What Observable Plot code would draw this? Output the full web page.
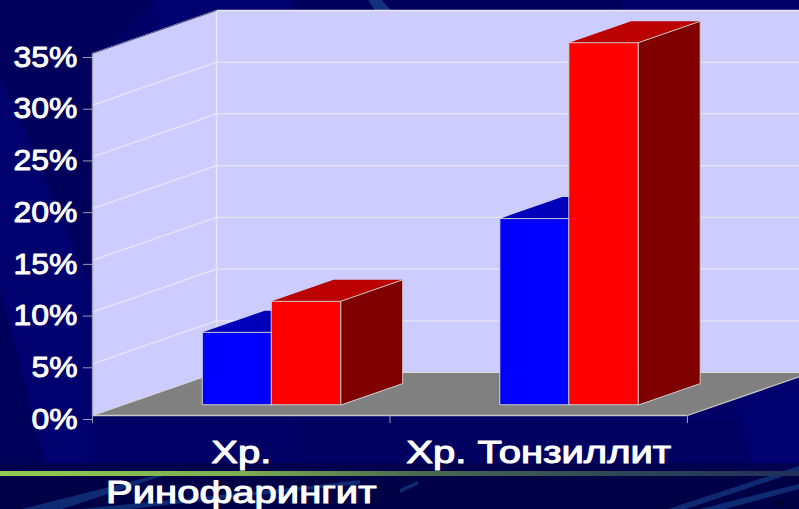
<!DOCTYPE html>
<html lang="ru">
<head>
<meta charset="utf-8">
<title>Хр. Ринофарингит и Хр. Тонзиллит</title>
<script src="https://cdn.jsdelivr.net/npm/d3@7"></script>
<script src="https://cdn.jsdelivr.net/npm/@observablehq/plot@0.6"></script>
<style>
  html, body { margin: 0; padding: 0; background: #00006a; overflow: hidden; }
  #slide { position: relative; width: 799px; height: 509px; overflow: hidden; }
  #backdrop, #chart { position: absolute; left: 0; top: 0; }
  #chart svg { display: block; background: transparent; overflow: hidden; }
</style>
</head>
<body>
<div id="slide">
  <svg id="backdrop" width="799" height="509" aria-hidden="true">
    <defs>
      <linearGradient id="rule">
        <stop offset="0" stop-color="#8fcc50"/>
        <stop offset="0.3" stop-color="#7cae50"/>
        <stop offset="0.52" stop-color="#4a6a50"/>
        <stop offset="0.78" stop-color="#2d4656"/>
        <stop offset="1" stop-color="#20305a"/>
      </linearGradient>
    </defs>
    <rect width="799" height="509" fill="#000066"/>
    <polygon points="0,0 155,0 92,60 92,290 0,75" fill="#00005c"/>
    <polygon points="0,75 92,290 92,463 45,463 0,290" fill="#00006e"/>
    <polygon points="0,290 45,463 0,463" fill="#00005a"/>
    <polygon points="155,0 293,0 293,12 155,60" fill="#00006e"/>
    <polygon points="293,0 622,0 622,12 293,12" fill="#00005a"/>
    <polygon points="368,0 382,0 392,12 376,12" fill="#143080"/>
    <polygon points="622,0 799,0 799,12 622,12" fill="#000068"/>
    <polygon points="687,415 799,376 799,463 752,463 735,398" fill="#00006e"/>
    <polygon points="300,420 735,420 752,463 300,463" fill="#000060"/>
    <rect y="463" width="799" height="46" fill="#000046"/>
    <rect y="463" width="799" height="8" fill="#00004e"/>
    <g fill="#0e2a72">
      <polygon points="22,509 165,473 172,473 62,509"/>
      <polygon points="80,509 310,486 360,480 360,484 130,509"/>
      <polygon points="400,489 417,481 419,484 400,493"/>
      <polygon points="668,509 799,466 799,471 686,509"/>
      <polygon points="700,509 799,484 799,489 725,509"/>
    </g>
    <rect y="471" width="799" height="5" fill="url(#rule)"/>
  </svg>
  <div id="chart"></div>
</div>
<script>
// Share of patients by diagnosis, drawn as a clustered column chart on a 3-D stage
const categories = ["Хр. Ринофарингит", "Хр. Тонзиллит"];
const seriesBlue = [7, 18];
const seriesRed = [10, 35];
const percentTicks = [0, 5, 10, 15, 20, 25, 30, 35];
const labelFirstLine = ["Хр.", "Хр. Тонзиллит"];
const labelSecondLine = ["Ринофарингит"];

const palette = {
  wall: "#ccccff", floor: "#808080", grid: "#e6e6f4", edge: "#c8c8c8",
  blue: ["#0000ff", "#0000bb", "#000080"],
  red: ["#ff0000", "#bb0000", "#800000"]
};

// Oblique projection: moving to the back of the stage shifts a point along both axes.
const depthX = 0.4168;
const depthY = 4.157;
const project = ([x, v, depth]) => ({x: x + depth * depthX, y: v + depth * depthY});

const faces = [];
function addFace(target, id, fill, corners) {
  for (const corner of corners) target.push({id, fill, ...project(corner)});
}

const topValue = percentTicks[percentTicks.length - 1];
addFace(faces, "wall-left", palette.wall, [[0, 0, 0], [0, topValue, 0], [0, topValue, 1], [0, 0, 1]]);
addFace(faces, "wall-back", palette.wall, [[0, 0, 1], [0, topValue, 1], [2, topValue, 1], [2, 0, 1]]);
addFace(faces, "floor", palette.floor, [[0, 0, 0], [2, 0, 0], [2, 0, 1], [0, 0, 1]]);

// Grid lines run along the left wall and across the back wall.
const gridRows = percentTicks.slice(1).flatMap((v) =>
  [[0, v, 0], [0, v, 1], [2, v, 1]].map((p) => ({id: v, ...project(p)}))
);
const cornerRows = [[0, 0, 1], [0, topValue, 1]].map(project);
const floorEdgeRows = [[0, 0, 0], [0, 0, 1], [2, 0, 1]].map(project);
const frontEdgeRows = [[0, 0, 0], [2, 0, 0], [2, 0, 1]].map(project);
const leftEdgeRows = [[0, 0, 0], [0, topValue, 0]].map(project);
const leftTopRows = [[0, topValue, 0], [0, topValue, 1]].map(project);

// Columns occupy the middle half of the stage depth; blue is painted first so that
// the red column covers its side.
const barWidth = 0.232;
const depthFront = 0.25;
const depthBack = 0.75;
const topFaces = [];
const boxFaces = [];
categories.forEach((category, i) => {
  [[seriesBlue[i], palette.blue, -1], [seriesRed[i], palette.red, 0]].forEach(([value, colors, slot]) => {
    const x0 = i + 0.498 + slot * barWidth;
    const x1 = x0 + barWidth;
    const id = `${category}-${colors[0]}`;
    addFace(topFaces, `${id}-top`, colors[1], [
      [x0, value, depthFront], [x1, value, depthFront], [x1, value, depthBack], [x0, value, depthBack]
    ]);
    addFace(boxFaces, `${id}-side`, colors[2], [
      [x1, 0, depthFront], [x1, value, depthFront], [x1, value, depthBack], [x1, 0, depthBack]
    ]);
    addFace(boxFaces, `${id}-front`, colors[0], [
      [x0, 0, depthFront], [x1, 0, depthFront], [x1, value, depthFront], [x0, value, depthFront]
    ]);
  });
});
const paintRank = (id) =>
  (id.startsWith(categories[1]) ? 100 : 0) +
  (id.includes(palette.red[0]) ? 10 : 0) +
  (id.endsWith("top") ? 0 : id.endsWith("side") ? 1 : 2);
const columnRows = [...topFaces, ...boxFaces].sort((a, b) => paintRank(a.id) - paintRank(b.id));

const font = "'Liberation Sans', Arial, sans-serif";
const firstLines = labelFirstLine.map((text, i) => ({x: i + 0.5, text}));
const secondLines = labelSecondLine.map((text, i) => ({x: i + 0.5, text}));
const labelStyle = {
  x: "x", y: () => 0, text: "text", fill: "white", stroke: "white", strokeWidth: 1.1,
  fontSize: 32, lineAnchor: "bottom"
};

const chart = Plot.plot({
  width: 799,
  height: 509,
  marginLeft: 92,
  marginRight: 112,
  marginTop: 53,
  marginBottom: 94,
  style: {background: "transparent", fontFamily: font},
  x: {domain: [0, 2], range: [92, 687], axis: null},
  y: {domain: [0, topValue], range: [415, 53], axis: null},
  marks: [
    Plot.line(faces, {x: "x", y: "y", z: "id", fill: "fill", stroke: "none", curve: "linear-closed"}),
    Plot.line(gridRows, {x: "x", y: "y", z: "id", stroke: palette.grid, strokeWidth: 1.3}),
    Plot.line(cornerRows, {x: "x", y: "y", stroke: palette.grid, strokeWidth: 1.5}),
    Plot.line(floorEdgeRows, {x: "x", y: "y", stroke: "#dcdcdc", strokeWidth: 1.2}),
    Plot.line(frontEdgeRows, {x: "x", y: "y", stroke: palette.edge, strokeWidth: 1.3}),
    Plot.line(leftEdgeRows, {x: "x", y: "y", stroke: "#9c9cb4", strokeWidth: 1.4}),
    Plot.line(leftTopRows, {x: "x", y: "y", stroke: "#50507c", strokeWidth: 1}),
    Plot.line(columnRows, {
      x: "x", y: "y", z: "id", fill: "fill",
      stroke: (d) => (d.id.endsWith("top") ? "none" : palette.edge),
      strokeWidth: 1, curve: "linear-closed"
    }),
    Plot.axisX({ticks: [0, 1, 2], tickSize: 8, text: null, stroke: "#9c9cb4", strokeWidth: 1}),
    Plot.axisY({
      ticks: percentTicks, tickSize: 9, tickPadding: 6, stroke: "#9c9cb4",
      tickFormat: (d) => `${d}%`, fill: "white", textStroke: "white", textStrokeWidth: 0.9,
      fontSize: 29, dy: 4, label: null
    }),
    Plot.text(firstLines, {...labelStyle, dy: 47}),
    Plot.text(secondLines, {...labelStyle, dy: 87})
  ]
});

document.getElementById("chart").append(chart);

// The slide's type is set wide; stretch glyphs horizontally to suit.
for (const label of chart.querySelectorAll("text")) {
  const length = label.getComputedTextLength();
  const isCategoryLabel = label.closest("[font-size]")?.getAttribute("font-size") === "32";
  const stretch = isCategoryLabel ? 1.25 : 1.1;
  if (length > 0) {
    label.setAttribute("textLength", (length * stretch).toFixed(1));
    label.setAttribute("lengthAdjust", "spacingAndGlyphs");
  }
}
</script>
</body>
</html>
